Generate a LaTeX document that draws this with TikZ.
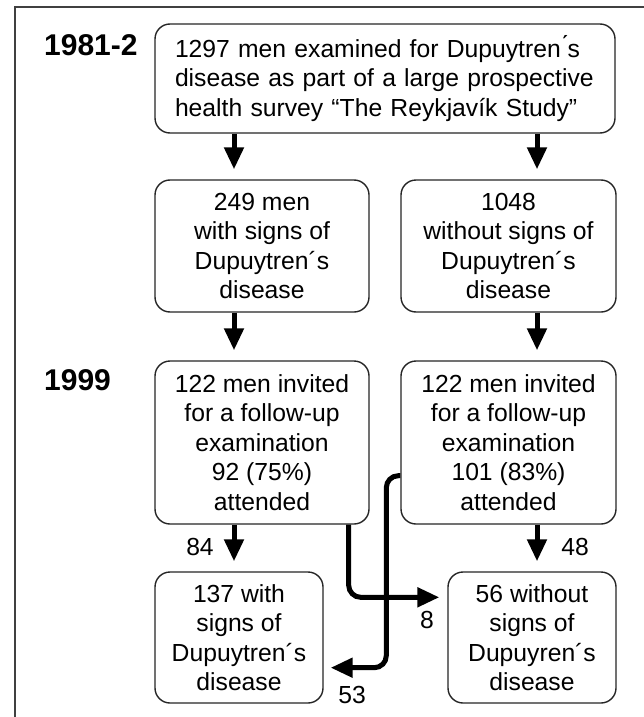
\documentclass[tikz,border=0pt]{standalone}
\usepackage{fontspec}
\setmainfont{Liberation Sans}
\usetikzlibrary{arrows.meta,calc}
\tikzset{
  box/.style={draw=black!85, line width=1.4pt, rounded corners=15pt, align=center,
    inner sep=0pt, font=\fontsize{24.7}{29.5}\selectfont},
  arr/.style={line width=5pt, -{Triangle[length=22pt,width=19pt]}, shorten >=10pt},
  bent/.style={line width=5pt, rounded corners=12pt, -{Triangle[length=22pt,width=19pt]}},
  num/.style={font=\fontsize{24.7}{29.5}\selectfont, inner sep=0pt},
  year/.style={font=\fontsize{30}{34}\selectfont\bfseries, inner sep=0pt, anchor=west},
  frame/.style={draw=black!75, line width=1.4pt}
}
\begin{document}
\begin{tikzpicture}[x=1pt,y=-1pt]
\useasboundingbox (0,0) rectangle (644,717);
\fill[white] (0,0) rectangle (644,717);
\draw[frame] (644,7) -- (15,7) -- (15,717);

\node[year] (y1) at (44,45) {1981-2};
\node[year] (y2) at (44,380) {1999};

\node[box, align=left, text width=420pt, inner xsep=20pt, minimum height=109pt] (top) at (385,78.5)
 {\mbox{1297 men examined for Dupuytren\'{}s}\\\mbox{disease as part of a large prospective}\\\mbox{health survey “The Reykjavík Study”}};

\node[box, minimum width=214pt, minimum height=132pt] (b2) at (262,246)
 {249 men\\with signs of\\Dupuytren´s\\disease};
\node[box, minimum width=215pt, minimum height=132pt] (b3) at (508.5,246)
 {1048\\without signs of\\Dupuytren´s\\disease};

\node[box, minimum width=214pt, minimum height=163pt] (b4) at (262,442.5)
 {122 men invited\\for a follow-up\\examination\\92 (75\%)\\attended};
\node[box, minimum width=215pt, minimum height=163pt] (b5) at (508.5,442.5)
 {122 men invited\\for a follow-up\\examination\\101 (83\%)\\attended};

\node[box, minimum width=168pt, minimum height=131pt] (b6) at (239,637.5)
 {137 with\\signs of\\Dupuytren´s\\disease};
\node[box, minimum width=168pt, minimum height=131pt] (b7) at (532,637.5)
 {56 without\\signs of\\Dupuyren´s\\disease};

\draw[arr] (top.south -| b2.center) ++(-28,0) coordinate (s1) -- (s1 |- b2.north);
\draw[arr] (top.south -| b3.center) ++(28.5,0) coordinate (s2) -- (s2 |- b3.north);
\draw[arr] ([xshift=-28pt]b2.south) -- ([xshift=-28pt]b4.north);
\draw[arr] ([xshift=28.5pt]b3.south) -- ([xshift=28.5pt]b5.north);
\draw[arr] (s1 |- b4.south) -- (s1 |- b6.north);
\draw[arr] (s2 |- b5.south) -- (s2 |- b7.north);

\coordinate (e1) at ($(b7.north west)+(-8,26)$);
\draw[bent] ($(b4.south east)+(-21,0)$) |- (e1);
\coordinate (e2) at ($(b6.south east)+(7,-36)$);
\draw[bent] ($(b5.south west)+(0,-49)$) -- ++(-14,0) |- (e2);

\node[num] (n84) at (200,547) {84};
\node[num] (n48) at (575,547) {48};
\node[num] (n8) at (427,620) {8};
\node[num] (n53) at (352,695) {53};
\end{tikzpicture}
\end{document}
